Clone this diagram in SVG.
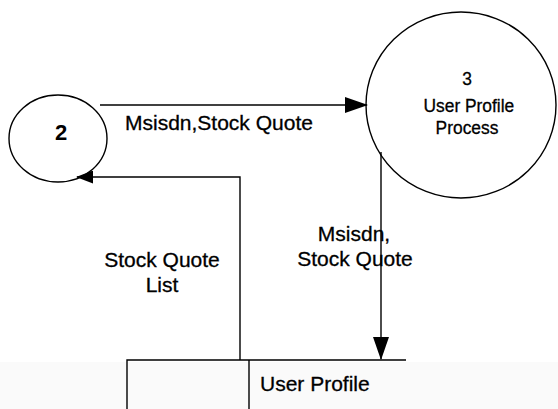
<svg xmlns="http://www.w3.org/2000/svg" width="558" height="409" viewBox="0 0 558 409">
  <style>
    .shape { fill: none; stroke: #000; stroke-width: 1.4; }
    .flow { fill: none; stroke: #000; stroke-width: 1.4; }
    .lbl { font-family: "Liberation Sans", Arial, sans-serif; font-size: 21px; fill: #000; stroke: #000; stroke-width: 0.3; }
    .proc { font-family: "Liberation Sans", Arial, sans-serif; font-size: 18.5px; fill: #000; stroke: #000; stroke-width: 0.3; text-anchor: middle; }
    .mid { text-anchor: middle; }
  </style>
  <defs>
    <marker id="arrow" markerWidth="23" markerHeight="16" refX="22" refY="8" orient="auto" markerUnits="userSpaceOnUse">
      <path d="M0,0 L23,8 L0,16 Z" fill="#000"/>
    </marker>
    <marker id="arrow-sm" markerWidth="17" markerHeight="13" refX="16" refY="6.5" orient="auto" markerUnits="userSpaceOnUse">
      <path d="M0,0 L17,6.5 L0,13 Z" fill="#000"/>
    </marker>
  </defs>

  <rect x="0" y="0" width="558" height="409" fill="#fff"/>
  <rect x="0" y="362" width="558" height="47" fill="#fafafa"/>

  <!-- process 2 -->
  <g id="process-2">
    <ellipse class="shape" cx="58" cy="138.5" rx="49" ry="43.5"/>
    <text class="proc" x="61" y="140" style="font-size:22px;font-weight:bold;stroke-width:0">2</text>
  </g>

  <!-- process 3 -->
  <g id="process-3">
    <ellipse class="shape" cx="461" cy="105" rx="95" ry="93"/>
    <g transform="translate(467,0) scale(0.94,1) translate(-467,0)">
      <text class="proc" x="467" y="85">3</text>
      <text class="proc" x="469" y="112">User Profile</text>
      <text class="proc" x="467" y="134">Process</text>
    </g>
  </g>

  <!-- data store: User Profile -->
  <g id="store-user-profile">
    <path class="shape" d="M127,409 V360 H406 M249,360 V409"/>
    <text class="lbl" x="260" y="391">User Profile</text>
  </g>

  <!-- data flows -->
  <g id="connectors">
    <path class="flow" d="M100,105 H367" marker-end="url(#arrow)"/>
    <path class="flow" d="M381,152 V359" marker-end="url(#arrow)"/>
    <path class="flow" d="M240,360 V177 H77" marker-end="url(#arrow-sm)"/>
  </g>

  <g id="flow-labels">
    <text class="lbl" x="125" y="130">Msisdn,Stock Quote</text>
    <text class="lbl mid" x="354" y="241">Msisdn,</text>
    <text class="lbl mid" x="355" y="266">Stock Quote</text>
    <text class="lbl mid" x="162" y="267">Stock Quote</text>
    <text class="lbl mid" x="162" y="292">List</text>
  </g>
</svg>
